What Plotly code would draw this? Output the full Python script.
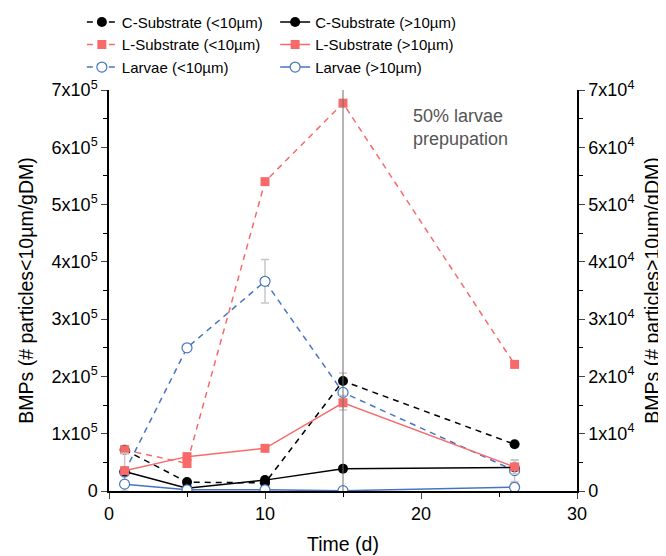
import plotly.graph_objects as go

# time points (days)
days = [1, 5, 10, 15, 26]

# <10um particles, left axis
c_small = [0.72e5, 0.155e5, 0.14e5, 1.92e5, 0.815e5]
l_small = [0.72e5, 0.48e5, 5.4e5, 6.77e5, 2.21e5]
larv_small = [0.33e5, 2.5e5, 3.66e5, 1.72e5, 0.355e5]

# >10um particles, right axis
c_large = [3.4e3, 0.5e3, 1.9e3, 3.9e3, 4.1e3]
l_large = [3.55e3, 6.0e3, 7.45e3, 15.4e3, 4.2e3]
larv_large = [1.2e3, 0.2e3, 0.2e3, 0.05e3, 0.65e3]

# error bars
c_small_err = [0, 0, 0, 0.14e5, 0]
l_small_err = [0.05e5, 0, 0, 0, 0]
larv_small_err = [0.33e5, 0, 0.38e5, 0, 0.19e5]
l_large_err = [0, 0, 0, 1.25e3, 1.2e3]
larv_large_err = [0, 0, 0, 0, 0.8e3]

left_ticks = [0, 1e5, 2e5, 3e5, 4e5, 5e5, 6e5, 7e5]
left_labels = ["0"] + [f"{i}x10<sup>5</sup>" for i in range(1, 8)]
right_ticks = [0, 1e4, 2e4, 3e4, 4e4, 5e4, 6e4, 7e4]
right_labels = ["0"] + [f"{i}x10<sup>4</sup>" for i in range(1, 8)]

BLACK = "#000000"
RED = "#F86A6A"
BLUE = "#4675C3"
ERR = "#C8C8C8"
FONT = "Liberation Sans, Arial, sans-serif"

fig = go.Figure()

def err(arr):
    return dict(type="data", array=arr, color=ERR, thickness=1.5, width=4)

# left legend column (<10um), right legend column (>10um)
fig.add_trace(go.Scatter(
    x=days, y=c_small, name="C-Substrate (<10µm)", legend="legend",
    mode="lines+markers", line=dict(color=BLACK, width=1.5, dash="6px,5px"),
    marker=dict(symbol="circle", size=10, color=BLACK), error_y=err(c_small_err)))
fig.add_trace(go.Scatter(
    x=days, y=l_small, name="L-Substrate (<10µm)", legend="legend",
    mode="lines+markers", line=dict(color=RED, width=1.5, dash="6px,5px"),
    marker=dict(symbol="square", size=9, color=RED), error_y=err(l_small_err)))
fig.add_trace(go.Scatter(
    x=days, y=larv_small, name="Larvae (<10µm)", legend="legend",
    mode="lines+markers", line=dict(color=BLUE, width=1.5, dash="6px,5px"),
    marker=dict(symbol="circle", size=10, color="white", line=dict(color=BLUE, width=1.2)),
    error_y=err(larv_small_err)))

fig.add_trace(go.Scatter(
    x=days, y=c_large, name="C-Substrate (>10µm)", legend="legend2", yaxis="y2",
    mode="lines+markers", line=dict(color=BLACK, width=1.5),
    marker=dict(symbol="circle", size=10, color=BLACK)))
fig.add_trace(go.Scatter(
    x=days, y=l_large, name="L-Substrate (>10µm)", legend="legend2", yaxis="y2",
    mode="lines+markers", line=dict(color=RED, width=1.5),
    marker=dict(symbol="square", size=9, color=RED), error_y=err(l_large_err)))
fig.add_trace(go.Scatter(
    x=days, y=larv_large, name="Larvae (>10µm)", legend="legend2", yaxis="y2",
    mode="lines+markers", line=dict(color=BLUE, width=1.5),
    marker=dict(symbol="circle", size=10, color="white", line=dict(color=BLUE, width=1.2)),
    error_y=err(larv_large_err)))

# 50% prepupation marker
fig.add_shape(type="line", xref="x", yref="paper", x0=15, x1=15, y0=0, y1=1,
              line=dict(color="#6E6E6E", width=1))
fig.add_annotation(x=0.645, y=0.965, xref="paper", yref="paper", xanchor="left", yanchor="top",
                   text="50% larvae<br>prepupation", showarrow=False, align="left",
                   font=dict(size=18, color="#555555", family=FONT))

axis_font = dict(size=18, color="black", family=FONT)
title_font = dict(size=19.5, color="black", family=FONT)
legend_font = dict(size=15, color="black", family=FONT)

# page body has an 8px margin, so the figure is 8px smaller than the window
fig.update_layout(
    width=658, height=548,
    margin=dict(l=101, r=89, t=82, b=65, autoexpand=False),
    plot_bgcolor="white", paper_bgcolor="white",
    font=dict(family=FONT, color="black"),
    xaxis=dict(range=[0, 30], tickvals=[0, 10, 20, 30], ticks="outside", ticklen=6,
               tickwidth=1.2, showline=True, linecolor="black", linewidth=1.5,
               showgrid=False, zeroline=False, tickfont=axis_font, automargin=False,
               minor=dict(dtick=5, ticks="outside", ticklen=4, tickcolor="black"),
               title=dict(text="Time (d)", font=title_font, standoff=14)),
    xaxis2=dict(range=[0, 30], overlaying="x", side="top", tickvals=[0, 10, 20, 30],
                ticks="inside", ticklen=6, showticklabels=False, showline=True,
                linecolor="black", linewidth=1.5, showgrid=False, zeroline=False,
                automargin=False,
                minor=dict(dtick=5, ticks="inside", ticklen=4, tickcolor="black")),
    yaxis=dict(range=[0, 7e5], tickvals=left_ticks, ticktext=left_labels, ticks="outside",
               ticklen=6, tickwidth=1.2, showline=True, linecolor="black", linewidth=1.5,
               showgrid=False, zeroline=False, tickfont=axis_font, automargin=False,
               minor=dict(dtick=0.5e5, ticks="outside", ticklen=4, tickcolor="black"),
               title=dict(text="BMPs (# particles<10µm/gDM)", font=title_font, standoff=13)),
    yaxis2=dict(range=[0, 7e4], overlaying="y", side="right", tickvals=right_ticks,
                ticktext=right_labels, ticks="outside", ticklen=6, tickwidth=1.2,
                showline=True, linecolor="black", linewidth=1.5, showgrid=False,
                zeroline=False, tickfont=axis_font, automargin=False,
                minor=dict(dtick=0.5e4, ticks="outside", ticklen=4, tickcolor="black"),
                title=dict(text="BMPs (# particles>10µm/gDM)", font=title_font, standoff=12)),
    legend=dict(x=-0.058, y=1.21, xanchor="left", yanchor="top", bgcolor="rgba(0,0,0,0)",
                font=legend_font, itemwidth=30),
    legend2=dict(x=0.355, y=1.21, xanchor="left", yanchor="top", bgcolor="rgba(0,0,0,0)",
                 font=legend_font, itemwidth=30),
)

fig.write_html("out.html")
